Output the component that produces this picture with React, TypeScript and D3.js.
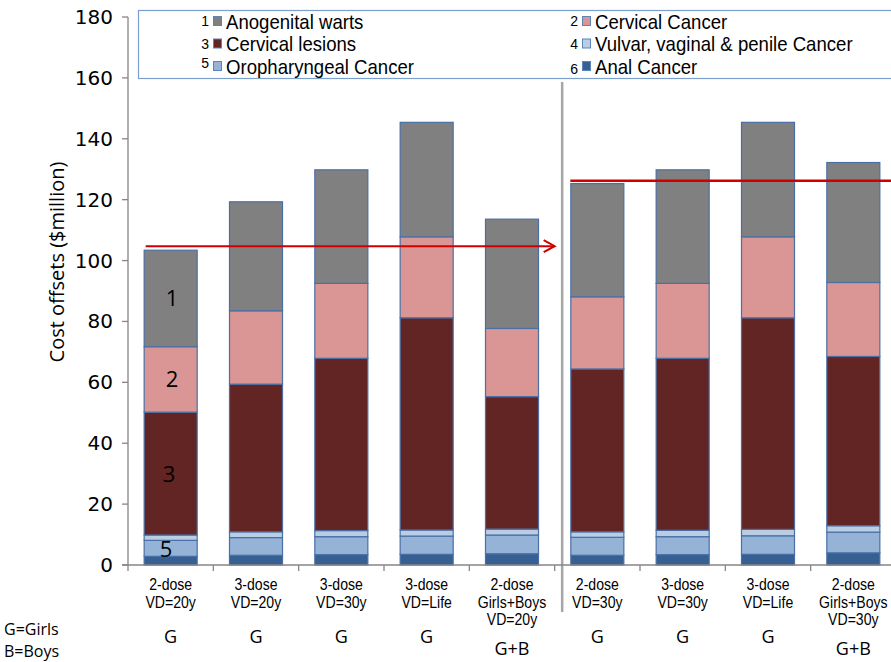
import React from "react";
import * as d3 from "d3";

const line1 = ["2-dose", "3-dose", "3-dose", "3-dose", "2-dose", "2-dose", "3-dose", "3-dose", "2-dose"];
const line2 = ["VD=20y", "VD=20y", "VD=30y", "VD=Life", "Girls+Boys", "VD=30y", "VD=30y", "VD=Life", "Girls+Boys"];
const line3 = ["", "", "", "", "VD=20y", "", "", "", "VD=30y"];
const groups = ["G", "G", "G", "G", "G+B", "G", "G", "G", "G+B"];

const anal = [2.85, 3.2, 3.4, 3.5, 3.7, 3.2, 3.4, 3.5, 4.0];
const oropharyngeal = [5.25, 5.8, 5.9, 6.0, 6.15, 5.9, 5.9, 6.1, 6.8];
const vulvar = [1.75, 1.9, 2.0, 2.0, 1.95, 1.8, 2.1, 2.1, 2.1];
const lesions = [40.35, 48.5, 56.6, 69.7, 43.5, 53.5, 56.5, 69.5, 55.6];
const cervicalCancer = [21.5, 24.1, 24.6, 26.6, 22.4, 23.7, 24.6, 26.6, 24.3];
const warts = [31.7, 35.8, 37.3, 37.6, 35.9, 37.2, 37.3, 37.6, 39.4];

const yTicks = [0, 20, 40, 60, 80, 100, 120, 140, 160, 180];

const seriesKeys = ["anal", "oro", "vulvar", "lesions", "cc", "warts"];
const seriesColors: Record<string, string> = {
  anal: "#376092",
  oro: "#95B3D7",
  vulvar: "#B9CDE5",
  lesions: "#632523",
  cc: "#D99694",
  warts: "#808080",
};

const legendItems = [
  { num: "1", label: "Anogenital warts", key: "warts", col: 0, row: 0 },
  { num: "2", label: "Cervical Cancer", key: "cc", col: 1, row: 0 },
  { num: "3", label: "Cervical lesions", key: "lesions", col: 0, row: 1 },
  { num: "4", label: "Vulvar, vaginal & penile Cancer", key: "vulvar", col: 1, row: 1 },
  { num: "5", label: "Oropharyngeal Cancer", key: "oro", col: 0, row: 2 },
  { num: "6", label: "Anal Cancer", key: "anal", col: 1, row: 2 },
];

// annotation levels (values)
const leftArrowLevel = 104.7;
const rightLineLevel = 126.2;

const W = 891;
const H = 662;
const SANS = "'Open Sans', 'DejaVu Sans', sans-serif";
const NARROW = "'Liberation Sans', Arial, sans-serif";

function categoriesCount() {
  return line1.length;
}

export default function App() {
  const idx = d3.range(categoriesCount());
  const x = d3.scaleBand<number>().domain(idx).range([128, 896]).paddingInner(0.367).paddingOuter(0.1835);
  const step = x.step();
  const y = d3.scaleLinear().domain([0, 180]).range([565, 17]);

  const rows = idx.map((i) => ({
    i,
    anal: anal[i],
    oro: oropharyngeal[i],
    vulvar: vulvar[i],
    lesions: lesions[i],
    cc: cervicalCancer[i],
    warts: warts[i],
  }));
  const stacked = d3.stack<any>().keys(seriesKeys)(rows);

  const slotStart = (i: number) => (x(i) as number) - step * 0.1835;
  const dividerX = slotStart(5) + 7.5;

  const bar0Center = (x(0) as number) + x.bandwidth() / 2;
  const s0 = (k: string) => stacked.find((s) => s.key === k)![0];
  const mid = (k: string) => y((s0(k)[0] + s0(k)[1]) / 2);

  const arrowEndX = slotStart(5);
  const arrowY = y(leftArrowLevel);
  const rightY = y(rightLineLevel);

  return (
    <svg width={W} height={H} style={{ position: "absolute", left: 0, top: 0, background: "#fff" }}>
      {/* legend */}
      <rect x={138.5} y={10.5} width={760} height={68} fill="#fff" stroke="#7BA0CD" strokeWidth={1.2} />
      {legendItems.map((it) => {
        const bx = it.col === 0 ? 213 : 582;
        const by = 16 + it.row * 22.5;
        const numDy = it.num === "5" ? -3 : it.num === "6" ? 3 : 0;
        return (
          <g key={it.key}>
            <text x={bx - 4} y={by + 10 + numDy} fontFamily={NARROW} fontSize={14} textAnchor="end" fill="#000">
              {it.num}
            </text>
            <rect x={bx + 0.5} y={by + 0.5} width={8} height={9} fill={seriesColors[it.key]} stroke="#5B85B8" strokeWidth={1} />
            <g transform={`translate(${bx + 13},${by + 12.5}) scale(0.93,1)`}>
              <text x={0} y={0} fontFamily={NARROW} fontSize={20} fill="#000">
                {it.label}
              </text>
            </g>
          </g>
        );
      })}

      {/* divider */}
      <line x1={dividerX} x2={dividerX} y1={82} y2={612} stroke="#A6A6A6" strokeWidth={2.5} />

      {/* bars */}
      {stacked.map((s) => (
        <g key={s.key}>
          {s.map((d, i) => (
            <rect
              key={i}
              x={(x(i) as number) + 0.5}
              y={y(d[1])}
              width={x.bandwidth() - 1}
              height={y(d[0]) - y(d[1])}
              fill={seriesColors[s.key]}
              stroke="#4A6FA5"
              strokeWidth={1.2}
            />
          ))}
        </g>
      ))}

      {/* axes */}
      <line x1={128} x2={128} y1={y(180)} y2={y(0)} stroke="#868686" strokeWidth={1.3} />
      {yTicks.map((t) => (
        <g key={t}>
          <line x1={122} x2={128} y1={y(t)} y2={y(t)} stroke="#868686" strokeWidth={1.3} />
          <text x={113} y={y(t) + 7} fontFamily="'DejaVu Sans', Verdana, sans-serif" fontSize={20} textAnchor="end" fill="#000">
            {t}
          </text>
        </g>
      ))}
      <line x1={122} x2={W} y1={y(0)} y2={y(0)} stroke="#868686" strokeWidth={1.3} />
      {d3.range(10).map((k) => (
        <line key={k} x1={128 + k * step} x2={128 + k * step} y1={y(0)} y2={y(0) + 6} stroke="#868686" strokeWidth={1.3} />
      ))}

      {/* y title */}
      <text transform={`translate(64,262) rotate(-90)`} fontFamily={SANS} fontSize={20} textAnchor="middle" fill="#000">
        Cost offsets ($million)
      </text>

      {/* x labels */}
      {idx.map((i) => {
        const cx = (x(i) as number) + x.bandwidth() / 2;
        return (
          <g key={i}>
            {[line1[i], line2[i], line3[i]].map((t, j) =>
              t ? (
                <g key={j} transform={`translate(${cx},${590 + j * 17.5}) scale(0.88,1)`}>
                  <text x={0} y={0} fontFamily={NARROW} fontSize={16} textAnchor="middle" fill="#000">
                    {t}
                  </text>
                </g>
              ) : null
            )}
            <text x={cx} y={groups[i] === "G" ? 643 : 655} fontFamily={SANS} fontSize={18} textAnchor="middle" fill="#000">
              {groups[i]}
            </text>
          </g>
        );
      })}

      <text x={4} y={635} fontFamily={SANS} fontSize={16} fill="#000">G=Girls</text>
      <text x={4} y={657} fontFamily={SANS} fontSize={16} fill="#000">B=Boys</text>

      {/* in-bar labels */}
      <text x={bar0Center + 1.5} y={mid("warts") + 8} fontFamily={SANS} fontSize={22} textAnchor="middle" fill="#000">1</text>
      <text x={bar0Center + 1.5} y={mid("cc") + 8} fontFamily={SANS} fontSize={22} textAnchor="middle" fill="#000">2</text>
      <text x={bar0Center - 1.5} y={mid("lesions") + 8} fontFamily={SANS} fontSize={22} textAnchor="middle" fill="#000">3</text>
      <text x={bar0Center - 4.5} y={mid("oro") + 9} fontFamily={SANS} fontSize={22} textAnchor="middle" fill="#000">5</text>

      {/* red reference arrow and line */}
      <line x1={(x(0) as number) + 2} x2={arrowEndX} y1={arrowY} y2={arrowY} stroke="#D00000" strokeWidth={2} />
      <polyline
        points={`${arrowEndX - 11},${arrowY - 6} ${arrowEndX},${arrowY} ${arrowEndX - 11},${arrowY + 6}`}
        fill="none"
        stroke="#D00000"
        strokeWidth={2}
      />
      <line x1={x(5) as number} x2={W} y1={rightY} y2={rightY} stroke="#D00000" strokeWidth={2.5} />
    </svg>
  );
}
